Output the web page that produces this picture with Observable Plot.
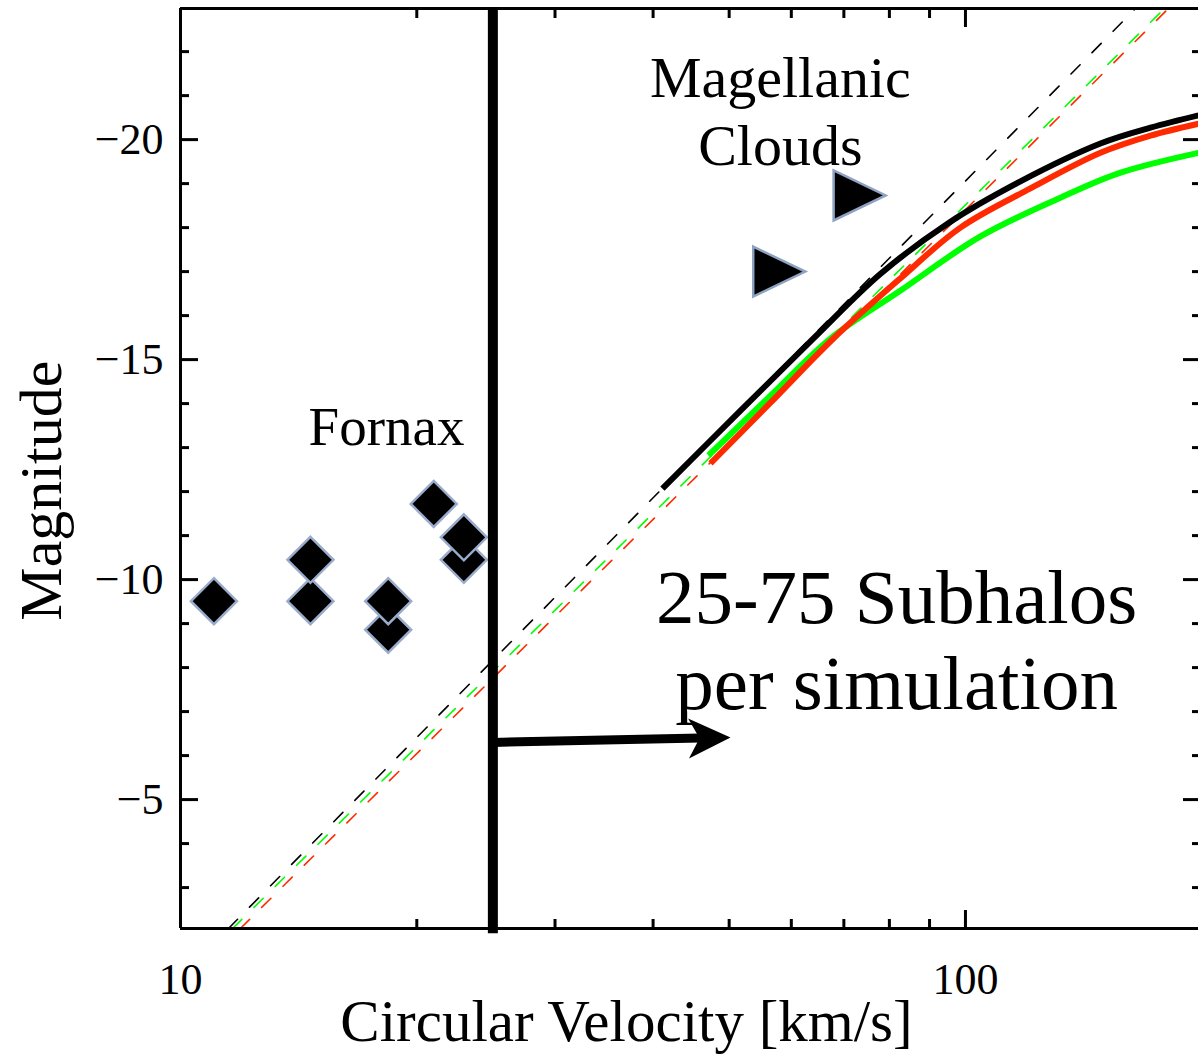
<!DOCTYPE html>
<html>
<head>
<meta charset="utf-8">
<script src="https://cdn.jsdelivr.net/npm/d3@7"></script>
<script src="https://cdn.jsdelivr.net/npm/@observablehq/plot@0.6"></script>
<style>
  html, body { margin: 0; padding: 0; background: #fff; }
  #chart svg { display: block; }
</style>
</head>
<body>
<div id="chart"></div>
<script>
// ---------- data ----------
// Fornax-like dwarfs (diamonds), drawn lower ones first
const dwarfV   = [18.39, 11.03, 14.64, 14.64, 18.39, 22.96, 22.96, 21.02];
const dwarfMag = [-8.86, -9.51, -9.51, -10.45, -9.51, -10.45, -10.96, -11.72];

// Magellanic Clouds (right-pointing triangles)
const mcV   = [56.4, 71.4];
const mcMag = [-17.0, -18.73];

// solid model curves
const blackV   = [41.11, 51.69, 64.03, 77.96, 94.87, 117.5, 148.6, 172.1, 198.1];
const blackMag = [-12.07, -13.84, -15.48, -16.95, -18.09, -19.05, -19.91, -20.27, -20.55];
const redV     = [47.33, 56.44, 67.89, 82.66, 98.54, 121.0, 148.6, 172.1, 198.1];
const redMag   = [-12.64, -14.02, -15.48, -16.85, -18.0, -18.89, -19.70, -20.09, -20.36];
const greenV   = [47.05, 56.44, 67.30, 82.66, 104.5, 132.1, 157.6, 198.1];
const greenMag = [-12.82, -14.18, -15.48, -16.57, -17.80, -18.68, -19.25, -19.70];

// dashed power-law extrapolations (endpoints)
const blackDashV = [11.51, 164.7],  blackDashMag = [-2.07, -22.98];
const greenDashV = [11.65, 179.3],  greenDashMag = [-2.07, -22.98];
const redDashV   = [11.92, 181.4],  redDashMag   = [-2.07, -22.98];

// velocity cut and arrow
const cutV = [25];
const arrowV = [25, 46, 50.2];
const arrowMag = [-6.30, -6.40, -6.41];

// ticks
const xMajor = [10, 100];
const xMinor = [20, 30, 40, 50, 60, 70, 80, 90];
const yMajor = [-20, -15, -10, -5];
const yMinor = [-22, -21, -19, -18, -17, -16, -14, -13, -12, -11, -9, -8, -7, -6, -4, -3];

// texts
const xLabel = "Circular Velocity [km/s]";
const yLabel = "Magnitude";
const mcLabel = "Magellanic\nClouds";
const fornaxLabel = "Fornax";
const subLabel = "25-75 Subhalos\nper simulation";

// ---------- build tables ----------
const toRows = (vs, ms, series) => vs.map((v, i) => ({v, m: ms[i], series}));
const solid = [
  ...toRows(greenV, greenMag, "green"),
  ...toRows(redV, redMag, "red"),
  ...toRows(blackV, blackMag, "black")
];
const dashed = [
  ...toRows(blackDashV, blackDashMag, "black"),
  ...toRows(greenDashV, greenDashMag, "green"),
  ...toRows(redDashV, redDashMag, "red")
];
const colorOf = {black: "#000000", red: "#ff2a00", green: "#00ff00"};
const dwarfs = toRows(dwarfV, dwarfMag, "dwarf");
const clouds = toRows(mcV, mcMag, "mc");

// custom symbols
const diamondSym = {draw(ctx) { const r = 23; ctx.moveTo(0, -r); ctx.lineTo(r, 0); ctx.lineTo(0, r); ctx.lineTo(-r, 0); ctx.closePath(); }};
const triSym = {draw(ctx) { ctx.moveTo(-17, -25); ctx.lineTo(35, 0); ctx.lineTo(-17, 25); ctx.closePath(); }};
const headSym = {draw(ctx) { ctx.moveTo(0, 0); ctx.lineTo(-42, -20); ctx.lineTo(-31, 0); ctx.lineTo(-42, 20); ctx.closePath(); }};

const fmt = d => (d < 0 ? "\u2212" + Math.abs(d) : String(d));
const frameW = 3;
const tickOpts = {tickFormat: () => "", strokeWidth: 3, label: null};

const chart = Plot.plot({
  width: 1198,
  height: 1055,
  marginLeft: 180,
  marginRight: 0,
  marginTop: 8,
  marginBottom: 127,
  x: {type: "log", domain: [10, 198.1], axis: null},
  y: {domain: [-2.07, -22.98], axis: null},
  style: {fontFamily: "'Liberation Serif', 'DejaVu Serif', serif", fontSize: "44px", background: "white", color: "black"},
  marks: [
    // dashed extrapolations
    Plot.line(dashed, {x: "v", y: "m", z: "series", stroke: d => colorOf[d.series], strokeWidth: 1.6, strokeDasharray: "13,17", clip: true}),
    // solid curves
    Plot.line(solid, {x: "v", y: "m", z: "series", stroke: d => colorOf[d.series], strokeWidth: 6, strokeLinecap: "butt", curve: "catmull-rom"}),
    // dwarfs
    Plot.dot(dwarfs, {x: "v", y: "m", symbol: diamondSym, fill: "black", stroke: "#9aaccb", strokeWidth: 2.5}),
    // Magellanic Clouds
    Plot.dot(clouds, {x: "v", y: "m", symbol: triSym, fill: "black", stroke: "#8ea2c2", strokeWidth: 2.5}),
    // velocity cut
    Plot.ruleX(cutV, {y1: -22.98, y2: -1.95, stroke: "black", strokeWidth: 10}),
    // arrow
    Plot.link([0], {x1: arrowV[0], y1: arrowMag[0], x2: arrowV[1], y2: arrowMag[1], stroke: "black", strokeWidth: 9}),
    Plot.dot([0], {x: arrowV[2], y: arrowMag[2], symbol: headSym, fill: "black", stroke: "none", rotate: -1.2}),
    // annotations
    Plot.text([mcLabel], {x: 58.1, y: -22.07, text: d => d, fontSize: 58, lineAnchor: "top", lineHeight: 1.17, textAnchor: "middle", fill: "black"}),
    Plot.text([fornaxLabel], {x: 18.3, y: -13.95, text: d => d, fontSize: 55, lineAnchor: "top", textAnchor: "middle", fill: "black"}),
    Plot.text([subLabel], {x: 81.7, y: -10.41, text: d => d, fontSize: 77, lineAnchor: "top", lineHeight: 1.12, textAnchor: "middle", fill: "black"}),
    // axis titles
    Plot.text([xLabel], {x: 37, frameAnchor: "bottom", dy: 71, text: d => d, fontSize: 59, lineAnchor: "top", textAnchor: "middle", fill: "black"}),
    Plot.text([yLabel], {y: -12.02, frameAnchor: "left", dx: -162, text: d => d, rotate: -90, fontSize: 60, lineAnchor: "top", textAnchor: "middle", fill: "black"}),
    // frame (left, top, bottom)
    Plot.ruleX([10], {stroke: "black", strokeWidth: frameW}),
    Plot.ruleY([-2.07], {stroke: "black", strokeWidth: frameW}),
    Plot.ruleY([-22.98], {stroke: "black", strokeWidth: frameW}),
    // inward ticks: left
    Plot.axisY(yMajor, {anchor: "left", tickSize: 18, dx: 18, ...tickOpts}),
    Plot.axisY(yMinor, {anchor: "left", tickSize: 9, dx: 9, ...tickOpts}),
    // right
    Plot.axisY(yMajor, {anchor: "right", tickSize: 16, dx: -16, ...tickOpts}),
    Plot.axisY(yMinor, {anchor: "right", tickSize: 7, dx: -7, ...tickOpts}),
    // bottom
    Plot.axisX(xMajor, {anchor: "bottom", tickSize: 18, dy: -18, ...tickOpts}),
    Plot.axisX(xMinor, {anchor: "bottom", tickSize: 9, dy: -9, ...tickOpts}),
    // top
    Plot.axisX(xMajor, {anchor: "top", tickSize: 18, dy: 18, ...tickOpts}),
    Plot.axisX(xMinor, {anchor: "top", tickSize: 9, dy: 9, ...tickOpts}),
    // tick labels
    Plot.axisY(yMajor, {anchor: "left", tickSize: 0, tickPadding: 17, tickFormat: fmt, fontSize: 44, label: null}),
    Plot.axisX(xMajor, {anchor: "bottom", tickSize: 0, tickPadding: 34, tickFormat: d => String(d), fontSize: 44, label: null})
  ]
});
document.getElementById("chart").appendChild(chart);
</script>
</body>
</html>
